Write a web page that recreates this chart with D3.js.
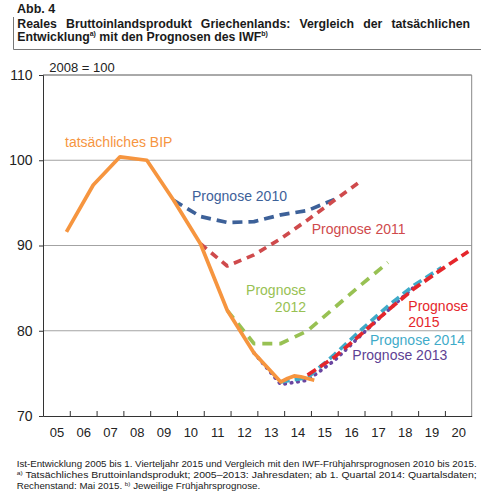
<!DOCTYPE html>
<html><head><meta charset="utf-8">
<script src="https://cdn.jsdelivr.net/npm/d3@7"></script>
<style>
body{margin:0;background:#fff}
svg{display:block}
text{font-family:"Liberation Sans",Arial,Helvetica,sans-serif}
</style>
</head><body>
<svg id="chart" width="481" height="500"></svg>
<script>
// ---------- data ----------
const actualPeriods = ["2005","2006","2007","2008","2009","2010","2011","2012","2013","2014Q1","2014Q2","2014Q3","2014Q4","2015Q1"];
const actualValues  = [91.6, 97.1, 100.4, 100.0, 95.3, 90.2, 82.4, 77.4, 74.0, 74.4, 74.7, 74.6, 74.4, 74.2];

const prog2010Years = [2009,2010,2011,2012,2013,2014,2015];
const prog2010Values = [95.3, 93.4, 92.7, 92.8, 93.6, 94.1, 95.4];
const prog2011Years = [2010,2011,2012,2013,2014,2015,2016];
const prog2011Values = [90.2, 87.6, 88.9, 90.8, 93.0, 95.3, 97.6];
const prog2012Years = [2011,2012,2013,2014,2015,2016,2017];
const prog2012Values = [82.4, 78.5, 78.5, 80.0, 82.7, 85.4, 88.0];
const prog2013Years = [2012,2013,2014,2015,2016,2017,2018];
const prog2013Values = [77.4, 73.7, 74.2, 76.5, 79.5, 82.4, 85.2];
const prog2014Years = [2013,2014,2015,2016,2017,2018,2019];
const prog2014Values = [74.0, 74.5, 77.2, 80.1, 82.9, 85.4, 87.4];
const prog2015Years = [2014,2015,2016,2017,2018,2019,2020];
const prog2015Values = [74.8, 76.9, 79.6, 82.4, 85.0, 87.2, 89.3];

const xCategories = [2005,2006,2007,2008,2009,2010,2011,2012,2013,2014,2015,2016,2017,2018,2019,2020];
const xTickLabels = ["05","06","07","08","09","10","11","12","13","14","15","16","17","18","19","20"];
const yTickValues = [70,80,90,100,110];
const gridValues = [80,90,100];

// ---------- helpers ----------
function periodToTime(p){
  const m = /^(\d{4})(?:Q(\d))?$/.exec(p);
  const y = +m[1];
  if (m[2]) return y + (+m[2]-0.5)/4;
  return y + 0.875; // annual value plotted at Q4 position
}

const series = [
  {name:"Prognose 2010", years:prog2010Years, values:prog2010Values, color:"#3d6199", dash:"10,6", cap:"butt"},
  {name:"Prognose 2011", years:prog2011Years, values:prog2011Values, color:"#cf4a4c", dash:"8,6", cap:"butt"},
  {name:"Prognose 2012", years:prog2012Years, values:prog2012Values, color:"#98c153", dash:"10,7", cap:"butt"},
  {name:"Prognose 2013", years:prog2013Years, values:prog2013Values, color:"#6a45a0", dash:"0.5,6", cap:"round"},
  {name:"Prognose 2014", years:prog2014Years, values:prog2014Values, color:"#3fabc9", dash:"9,5", cap:"butt"},
  {name:"Prognose 2015", years:prog2015Years, values:prog2015Values, color:"#e5262b", dash:"10,5", cap:"butt"}
];

// ---------- layout ----------
const svg = d3.select("#chart");
const L = 43, R = 471.7, T = 75, B = 416;
const x = d3.scaleLinear().domain([2005, 2021]).range([L, R]);
const y = d3.scaleLinear().domain([70, 110]).range([B, T]);

// ---------- title block ----------
svg.append("text").attr("x",17).attr("y",13).attr("font-size",12.5).attr("font-weight","bold").attr("fill","#1a1a1a").text("Abb. 4");
svg.append("line").attr("x1",13.5).attr("x2",13.5).attr("y1",17).attr("y2",49.5).attr("stroke","#777").attr("stroke-width",1);
svg.append("line").attr("x1",13.5).attr("x2",481).attr("y1",49.5).attr("y2",49.5).attr("stroke","#777").attr("stroke-width",1);

// justified title line 1 (per-word positioning)
(function(){
  const words = "Reales Bruttoinlandsprodukt Griechenlands: Vergleich der tatsächlichen".split(" ");
  const x0 = 17.3, x1 = 470;
  const g = svg.append("g");
  const nodes = words.map(w => g.append("text").attr("y",28).attr("font-size",12.3).attr("font-weight","bold").attr("fill","#1a1a1a").text(w));
  const widths = nodes.map(n => n.node().getComputedTextLength());
  const total = d3.sum(widths);
  const gap = (x1 - x0 - total)/(words.length-1);
  let cx = x0;
  nodes.forEach((n,i)=>{ n.attr("x",cx); cx += widths[i] + gap; });
})();
const t2 = svg.append("text").attr("x",17.3).attr("y",40.5).attr("font-size",12.3).attr("font-weight","bold").attr("fill","#1a1a1a");
t2.append("tspan").text("Entwicklung");
t2.append("tspan").attr("font-size",7).attr("dy",-4.5).text("a)");
t2.append("tspan").attr("dy",4.5).text(" mit den Prognosen des IWF");
t2.append("tspan").attr("font-size",7).attr("dy",-4.5).text("b)");

// ---------- plot frame and grid ----------
svg.append("g").selectAll("line").data(gridValues).join("line")
  .attr("x1",L).attr("x2",R).attr("y1",d=>y(d)).attr("y2",d=>y(d))
  .attr("stroke","#a3a3a3").attr("stroke-width",1);
svg.append("line").attr("x1",L).attr("x2",R).attr("y1",y(110)).attr("y2",y(110)).attr("stroke","#555").attr("stroke-width",1);
svg.append("line").attr("x1",R).attr("x2",R).attr("y1",T).attr("y2",B).attr("stroke","#888").attr("stroke-width",1);

// y axis
const yAxis = svg.append("g").attr("transform",`translate(${L},0)`)
  .call(d3.axisLeft(y).tickValues(yTickValues).tickSize(4).tickPadding(6.5).tickFormat(d3.format("d")));
yAxis.select(".domain").attr("stroke","#333");
yAxis.selectAll(".tick line").attr("stroke","#333");
yAxis.selectAll("text").attr("font-size",14).attr("fill","#222").style("font-family",'"Liberation Sans",Arial,sans-serif');

// x axis: inner ticks at year boundaries
const xAxis = svg.append("g").attr("transform",`translate(0,${B})`)
  .call(d3.axisBottom(x).tickValues(xCategories.slice(1)).tickSizeInner(-5).tickSizeOuter(0).tickFormat(""));
xAxis.select(".domain").attr("stroke","#333");
xAxis.selectAll(".tick line").attr("stroke","#333");
// x labels centred in each year band
const xLab = svg.append("g").attr("transform",`translate(0,${B})`)
  .call(d3.axisBottom(x).tickValues(xCategories.map(d=>d+0.5)).tickSize(0).tickPadding(11.5)
    .tickFormat((d,i)=>xTickLabels[i]));
xLab.select(".domain").remove();
xLab.selectAll("text").attr("font-size",13).attr("fill","#222").style("font-family",'"Liberation Sans",Arial,sans-serif');

svg.append("text").attr("x",49.3).attr("y",71.5).attr("font-size",13).attr("fill","#222").text("2008 = 100");

// ---------- lines ----------
const line = d3.line().x(d=>x(d.t)).y(d=>y(d.v));
series.forEach(s=>{
  const pts = s.years.map((yr,i)=>({t:periodToTime(String(yr)), v:s.values[i]}));
  svg.append("path").attr("d",line(pts)).attr("fill","none")
    .attr("stroke",s.color).attr("stroke-width",3.7).attr("stroke-dasharray",s.dash)
    .attr("stroke-linecap",s.cap).attr("stroke-linejoin","round");
});
const actualPts = actualPeriods.map((p,i)=>({t:periodToTime(p), v:actualValues[i]}));
svg.append("path").attr("d",line(actualPts)).attr("fill","none")
  .attr("stroke","#f6953f").attr("stroke-width",3.7).attr("stroke-linejoin","round");

// ---------- series labels ----------
const labels = [
  {lines:["tatsächliches BIP"], x:65, y:147, color:"#f6953f", anchor:"start"},
  {lines:["Prognose 2010"], x:192, y:201, color:"#3d6199", anchor:"start"},
  {lines:["Prognose 2011"], x:311.7, y:233.5, color:"#cf4a4c", anchor:"start"},
  {lines:["Prognose","2012"], x:306, y:295, color:"#98c153", anchor:"end"},
  {lines:["Prognose","2015"], x:408.3, y:310.5, color:"#e5262b", anchor:"start"},
  {lines:["Prognose 2014"], x:370, y:345, color:"#3fabc9", anchor:"start"},
  {lines:["Prognose 2013"], x:352.3, y:360, color:"#5e3f94", anchor:"start"}
];
labels.forEach(l=>{
  const t = svg.append("text").attr("font-size",14).attr("fill",l.color).attr("text-anchor",l.anchor);
  l.lines.forEach((s,i)=>t.append("tspan").attr("x",l.x).attr("y",l.y + i*16.8).text(s));
});

// ---------- footnotes ----------
const FN = 9.3;
const fn1 = svg.append("text").attr("x",16.7).attr("y",466.5).attr("font-size",FN).attr("fill","#1a1a1a")
  .text("Ist-Entwicklung 2005 bis 1. Vierteljahr 2015 und Vergleich mit den IWF-Frühjahrsprognosen 2010 bis 2015.");
const nat1 = fn1.node().getComputedTextLength();
const squeeze = 460/nat1;
fn1.attr("textLength",460).attr("lengthAdjust","spacingAndGlyphs");

const fn2 = svg.append("text").attr("x",16.7).attr("y",478).attr("font-size",FN).attr("fill","#1a1a1a");
fn2.append("tspan").attr("font-size",6).attr("dy",-3).text("a)");
fn2.append("tspan").attr("dy",3).text(" Tatsächliches Bruttoinlandsprodukt; 2005–2013: Jahresdaten; ab 1. Quartal 2014: Quartalsdaten;");
fn2.attr("textLength",460).attr("lengthAdjust","spacingAndGlyphs");

const fn3 = svg.append("text").attr("x",16.7).attr("y",489).attr("font-size",FN).attr("fill","#1a1a1a");
fn3.append("tspan").text("Rechenstand: Mai 2015. ");
fn3.append("tspan").attr("font-size",6).attr("dy",-3).text("b)");
fn3.append("tspan").attr("dy",3).text(" Jeweilige Frühjahrsprognose.");
const nat3 = fn3.node().getComputedTextLength();
fn3.attr("textLength",nat3*squeeze).attr("lengthAdjust","spacingAndGlyphs");
</script>
</body></html>
